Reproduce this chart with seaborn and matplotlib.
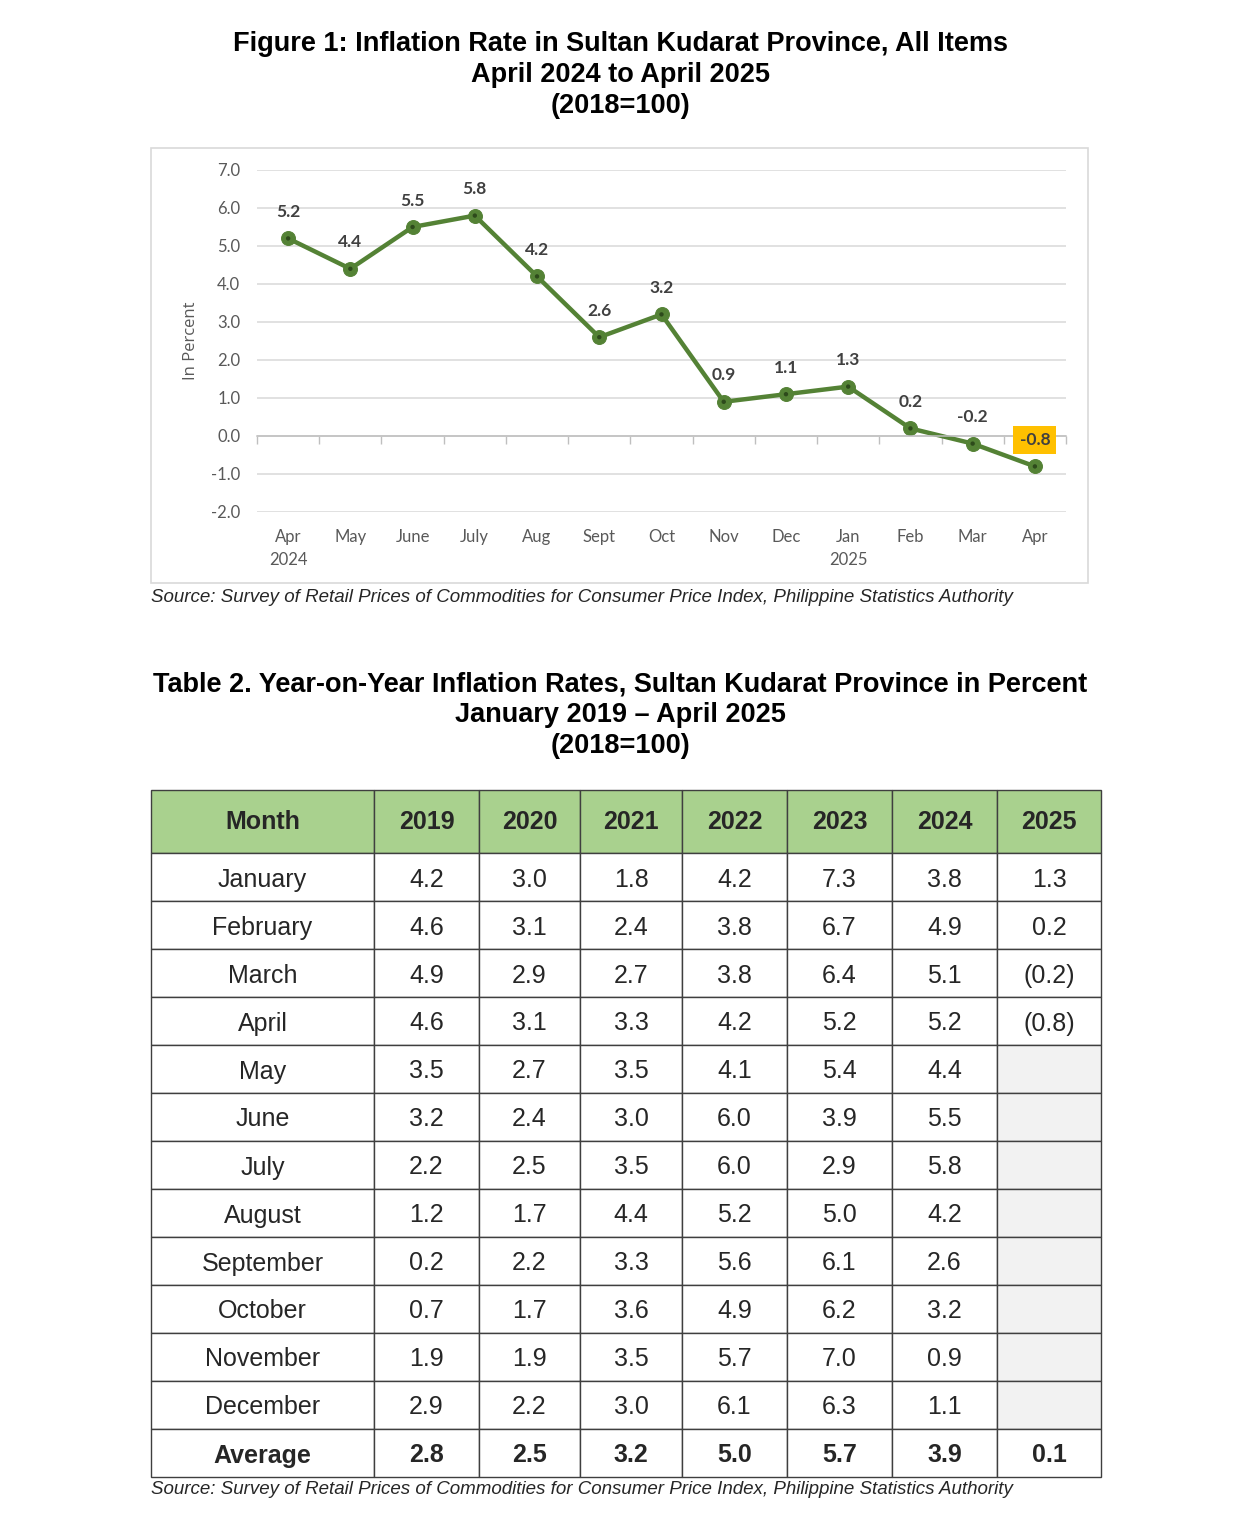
import numpy as np
import pandas as pd
import matplotlib
matplotlib.use('Agg')
import matplotlib.pyplot as plt
import seaborn as sns
from matplotlib.patches import Rectangle

# Figure 1 data
months = ['Apr\n2024', 'May', 'June', 'July', 'Aug', 'Sept', 'Oct', 'Nov', 'Dec',
          'Jan\n2025', 'Feb', 'Mar', 'Apr']
rates = [5.2, 4.4, 5.5, 5.8, 4.2, 2.6, 3.2, 0.9, 1.1, 1.3, 0.2, -0.2, -0.8]

# Table 2 data
table_months = ['January', 'February', 'March', 'April', 'May', 'June', 'July',
                'August', 'September', 'October', 'November', 'December']
years = ['2019', '2020', '2021', '2022', '2023', '2024', '2025']
y2019 = [4.2, 4.6, 4.9, 4.6, 3.5, 3.2, 2.2, 1.2, 0.2, 0.7, 1.9, 2.9]
y2020 = [3.0, 3.1, 2.9, 3.1, 2.7, 2.4, 2.5, 1.7, 2.2, 1.7, 1.9, 2.2]
y2021 = [1.8, 2.4, 2.7, 3.3, 3.5, 3.0, 3.5, 4.4, 3.3, 3.6, 3.5, 3.0]
y2022 = [4.2, 3.8, 3.8, 4.2, 4.1, 6.0, 6.0, 5.2, 5.6, 4.9, 5.7, 6.1]
y2023 = [7.3, 6.7, 6.4, 5.2, 5.4, 3.9, 2.9, 5.0, 6.1, 6.2, 7.0, 6.3]
y2024 = [3.8, 4.9, 5.1, 5.2, 4.4, 5.5, 5.8, 4.2, 2.6, 3.2, 0.9, 1.1]
y2025 = [1.3, 0.2, -0.2, -0.8] + [np.nan] * 8
averages = [2.8, 2.5, 3.2, 5.0, 5.7, 3.9, 0.1]

source = ('Source: Survey of Retail Prices of Commodities for Consumer Price Index, '
          'Philippine Statistics Authority')

sns.set_theme(style='white')
plt.rcParams['axes.unicode_minus'] = False
plt.rcParams['font.family'] = ['Liberation Sans', 'DejaVu Sans']

W, H = 1241, 1522
fig = plt.figure(figsize=(W / 100, H / 100), dpi=100)
fig.patch.set_facecolor('white')


def fx(x):
    return x / W


def fy(y):
    return 1 - y / H


# ---- titles ----
for txt, y in [('Figure 1: Inflation Rate in Sultan Kudarat Province, All Items', 44),
               ('April 2024 to April 2025', 75), ('(2018=100)', 106)]:
    fig.text(0.5, fy(y), txt, ha='center', va='center', fontsize=19.5, fontweight='bold', color='black')

for txt, y in [('Table 2. Year-on-Year Inflation Rates, Sultan Kudarat Province in Percent', 684),
               ('January 2019 \u2013 April 2025', 715), ('(2018=100)', 746)]:
    fig.text(0.5, fy(y), txt, ha='center', va='center', fontsize=19.5, fontweight='bold', color='black')

# ---- chart ----
fig.add_artist(Rectangle((fx(151), fy(583)), fx(1088 - 151), (583 - 148) / H,
                         transform=fig.transFigure, fill=False, ec='#D9D9D9', lw=1.2))

ax = fig.add_axes([fx(257), fy(512), fx(1066 - 257), (512 - 170) / H])
df = pd.DataFrame({'pos': np.arange(len(months)), 'rate': rates})
line_col = '#548235'
sns.lineplot(data=df, x='pos', y='rate', ax=ax, color=line_col, lw=3.2,
             marker='o', markersize=10, markeredgecolor=line_col, markerfacecolor=line_col)
sns.scatterplot(data=df, x='pos', y='rate', ax=ax, color='#2D4A1B', s=10, edgecolor='none', zorder=5)

ax.set_xlim(-0.5, len(months) - 0.5)
ax.set_ylim(-2, 7)
ax.set_yticks(np.arange(-2, 7.1, 1))
ax.set_yticklabels([f'{v:.1f}' for v in np.arange(-2, 7.1, 1)])
ax.yaxis.grid(True, color='#D9D9D9', lw=1.1)
ax.set_axisbelow(True)
for s in ['left', 'right', 'top']:
    ax.spines[s].set_visible(False)
ax.spines['bottom'].set_position(('data', 0))
ax.spines['bottom'].set_color('#BFBFBF')
ax.spines['bottom'].set_linewidth(1.1)
ax.set_xticks(np.arange(len(months)))
ax.set_xticklabels(months, linespacing=1.5)
ax.set_xticks(np.arange(-0.5, len(months), 1), minor=True)
ax.tick_params(axis='x', which='major', length=0, pad=67, labelsize=12, labelcolor='#595959')
ax.tick_params(axis='x', which='minor', length=6, width=1, color='#BFBFBF', direction='out', bottom=True)
ax.tick_params(axis='y', length=0, pad=12, labelsize=12, labelcolor='#595959')
for lab in ax.get_xticklabels() + ax.get_yticklabels():
    lab.set_fontfamily(['Lato', 'DejaVu Sans'])
ax.set_xlabel('')
ax.set_ylabel('')
fig.text(fx(191), fy(341), 'In Percent', rotation=90, ha='center', va='center',
         fontsize=12, color='#595959', family=['Open Sans', 'DejaVu Sans'])

for i, v in enumerate(rates):
    kw = {}
    if i == len(rates) - 1:
        kw['bbox'] = dict(boxstyle='square,pad=0.35', fc='#FFC000', ec='none')
    ax.annotate(f'{v:.1f}', (i, v), xytext=(0, 19), textcoords='offset points',
                ha='center', va='center', fontsize=12.5, fontweight='bold', color='#404040',
                family=['Lato', 'DejaVu Sans'], **kw)

fig.text(fx(151), fy(597), source, ha='left', va='center', fontsize=13.5, style='italic')

# ---- table ----
cols = [y2019, y2020, y2021, y2022, y2023, y2024, y2025]


def fmt(v):
    if np.isnan(v):
        return ''
    return f'({abs(v):.1f})' if v < 0 else f'{v:.1f}'


rows = [[m] + [fmt(c[i]) for c in cols] for i, m in enumerate(table_months)]
rows.append(['Average'] + [fmt(a) for a in averages])

col_w = [223, 105, 101, 102, 105, 105, 105, 104]
axt = fig.add_axes([fx(151), fy(1477), fx(1101 - 151), (1477 - 790) / H])
axt.axis('off')
tbl = axt.table(cellText=rows, colLabels=['Month'] + years, cellLoc='center',
                colWidths=[w / sum(col_w) for w in col_w], bbox=[0, 0, 1, 1])
tbl.auto_set_font_size(False)
tbl.set_fontsize(18)
n_rows = len(rows)
for (r, c), cell in tbl.get_celld().items():
    cell.set_edgecolor('#3F3F3F')
    cell.set_linewidth(1.0)
    cell.set_height(63 if r == 0 else 48)
    if r == 0:
        cell.set_facecolor('#A9D18E')
        cell.get_text().set_fontweight('bold')
    else:
        cell.get_text().set_va('center_baseline')
    if r == n_rows:
        cell.get_text().set_fontweight('bold')
    if c == len(col_w) - 1 and 0 < r < n_rows and rows[r - 1][c] == '':
        cell.set_facecolor('#F2F2F2')

fig.text(fx(151), fy(1489), source, ha='left', va='center', fontsize=13.5, style='italic')

fig.savefig('out.png', dpi=100)
